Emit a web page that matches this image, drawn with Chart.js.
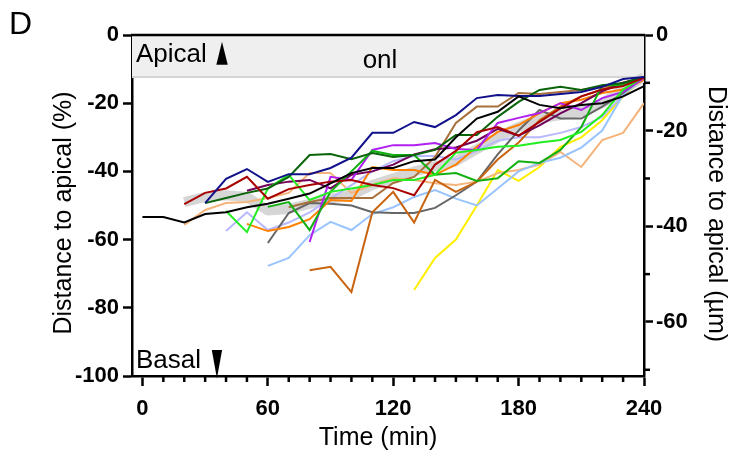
<!DOCTYPE html>
<html>
<head>
<meta charset="utf-8">
<script src="https://cdn.jsdelivr.net/npm/chart.js@4.4.1/dist/chart.umd.min.js"></script>
<style>
  html, body { margin: 0; padding: 0; background: #fff; }
</style>
</head>
<body>
<canvas id="graph" width="729" height="454"></canvas>
<script>
var times = [0, 10, 20, 30, 40, 50, 60, 70, 80, 90, 100, 110, 120, 130, 140, 150, 160, 170, 180, 190, 200, 210, 220, 230, 240];
var xTicks = [0, 60, 120, 180, 240];
var leftTicks = [0, -20, -40, -60, -80, -100];
var rightTicks = [0, -20, -40, -60];
var rightMinor = [-10, -30, -50, -70];
var apicalLimit = -12.3;    // bottom of the grey apical strip (%)
var umPerPercent = 0.713;   // 100 % of the tissue = 71.3 um

// one track per cell, values every 10 min (null = not tracked yet)
var meanBand  = [null, null, -49, -47.5, -47, -47.5, -51.5, -51, -49.5, -48, -47, -44, -42, -40, -38.5, -37, -33.5, -30, -27, -24.5, -23.5, -22.5, -20, -16, -12.3];
var black     = [-53.4, -53.4, -55, -52.5, -52, -50.5, -49.5, -48, -46.5, -43.5, -40.5, -39, -39, -37, -36.5, -30, -24.5, -22.5, -18, -20.5, -21.5, -20.5, -20, -18, -15];
var navy      = [null, null, null, -49.3, -42.2, -39.3, -43.1, -40.8, -40.8, -39, -36, -28.7, -28.7, -25.5, -27, -23.5, -18.5, -17.6, -17.9, -17.9, -17.3, -16.7, -15.2, -12.9, -12.3];
var darkRed   = [null, null, -49.6, -46.3, -45, -41.6, -48, -45.2, -44, -43, -42.5, -44, -44.9, -47, -38, -34, -28.5, -27, -29.5, -25.5, -21.5, -18, -16, -15, -12.5];
var darkGreen = [null, null, null, -49.3, -47.8, -46.3, -45, -41.6, -35.2, -34.9, -36.4, -34.6, -35.8, -35.2, -33.7, -29.3, -29.3, -24, -19.6, -16.1, -15.2, -16.1, -14.7, -14.1, -12.3];
var lime      = [null, null, null, null, -51.6, -57.8, -45, -41, -48.4, -46, -45, -44, -42.5, -42.5, -41, -34.5, -33.7, -32.8, -32.5, -31.5, -30.8, -28.4, -23.5, -16, -12.3];
var midGreen  = [null, null, null, null, null, null, -50.4, -49, -57.2, -46, -40, -34, -35.2, -35.2, -41, -40.5, -42.8, -42, -37, -37.5, -33.7, -27, -14.7, -14.7, -12.3];
var violet    = [null, null, null, null, null, null, null, null, -60.7, -41.6, -42.5, -33.7, -32.3, -32.3, -31.7, -33.4, -33.7, -25.8, -24.3, -22.9, -20, -22, -18.5, -16.7, -12.6];
var plum      = [null, null, null, null, null, -45.7, -44, -43, -42.5, -45, -41, -40, -38, -35, -33.5, -33, -31, -27.5, -29.5, -26.5, -23, -20, -16.5, -14, -12.5];
var orange    = [null, null, null, null, null, -55.4, -57.5, -56.3, -54, -48.4, -48.7, -38.7, -39.6, -39.6, -41, -38, -32.8, -28.4, -26.4, -22.9, -20, -19, -17, -16, -13.2];
var rust      = [null, null, null, null, null, null, null, null, -69, -68, -75.4, -52, -46, -55, -42.5, -46, -43, -36.5, -31.5, -25, -21, -18, -16, -14, -12.5];
var tan       = [null, null, null, null, null, null, null, -50.5, -49, -47.8, -47.8, -47.8, -43.4, -41.6, -35.8, -25.8, -21, -21, -17, -17.3, -16.7, -16.1, -15.2, -14.7, -12.6];
var grey      = [null, null, null, null, null, null, -61, -52.2, -49.3, -49.5, -50, -52, -52.2, -52.2, -50.7, -47, -43, -35, -28, -22, -24.5, -24.5, -21, -17, -12.5];
var skyBlue   = [null, null, null, null, null, null, -67.7, -65.4, -58.7, -54.8, -57.2, -52.5, -50.5, -47.5, -45.5, -48, -50, -45, -40, -37.5, -36, -33, -28, -17.5, -12.5];
var lavender  = [null, null, null, null, -57.5, -52, -57.2, -55, -52, -48, -44, -40, -37, -35.5, -35.5, -36.5, -34, -31, -30, -30, -28.7, -27, -24, -17.5, -12.5];
var peach     = [null, null, -55.7, -51.3, -49.3, -49, -47.8, -46.3, -40.5, -40.5, -46.3, -44, -42, -42.5, -43.5, -44, -43, -40.5, -39.6, -38, -34.3, -38.7, -30.8, -28.7, -20];
var yellow    = [null, null, null, null, null, null, null, null, null, null, null, null, null, -74.8, -65.4, -60, -50, -39.6, -42.8, -38.7, -32.8, -30, -25, -18, -12.3];

var tracks = [
    { vals: black, color: "#000000" },
    { vals: navy, color: "#10108a" },
    { vals: darkRed, color: "#a80000" },
    { vals: darkGreen, color: "#0a640a" },
    { vals: lime, color: "#22ee22" },
    { vals: midGreen, color: "#10b010" },
    { vals: violet, color: "#b020f0" },
    { vals: plum, color: "#700058" },
    { vals: orange, color: "#ff8000" },
    { vals: rust, color: "#c86410" },
    { vals: tan, color: "#a8703a" },
    { vals: grey, color: "#666666" },
    { vals: skyBlue, color: "#99c4ff" },
    { vals: lavender, color: "#b8b8ff" },
    { vals: peach, color: "#f5b47c" },
    { vals: yellow, color: "#ffee00" }
];

function toPoints(vals) {
    return times.map(function (t, i) { return { x: t, y: vals[i] }; });
}

var datasets = tracks.map(function (tr, i) {
    return {
        data: toPoints(tr.vals),
        borderColor: tr.color,
        borderWidth: 2,
        order: i
    };
});
datasets.push({
    data: toPoints(meanBand),
    borderColor: "#d6d6d6",
    borderWidth: 10,
    borderJoinStyle: "round",
    order: 99
});

var FONT = "'Liberation Sans', Arial, sans-serif";

var decor = {
    id: "decor",
    beforeDatasetsDraw: function (chart) {
        var c = chart.ctx, a = chart.chartArea, y = chart.scales.y;
        var yb = y.getPixelForValue(apicalLimit);
        c.save();
        c.fillStyle = "#efefef";
        c.fillRect(a.left, a.top, a.right - a.left, yb - a.top);
        c.strokeStyle = "#d4d4d4";
        c.lineWidth = 2;
        c.beginPath();
        c.moveTo(a.left, yb);
        c.lineTo(a.right, yb);
        c.stroke();
        c.restore();
    },
    afterDraw: function (chart) {
        var c = chart.ctx, a = chart.chartArea;
        var x = chart.scales.x, y2 = chart.scales.y2;
        c.save();
        // top frame
        c.strokeStyle = "#000";
        c.lineWidth = 2.5;
        c.beginPath();
        c.moveTo(a.left - 1, a.top);
        c.lineTo(a.right + 1, a.top);
        c.stroke();
        // minor ticks
        times.forEach(function (t) {
            if (xTicks.indexOf(t) >= 0) return;
            var px = x.getPixelForValue(t);
            c.beginPath();
            c.moveTo(px, a.bottom);
            c.lineTo(px, a.bottom + 6);
            c.stroke();
        });
        rightMinor.forEach(function (v) {
            var py = y2.getPixelForValue(v);
            c.beginPath();
            c.moveTo(a.right, py);
            c.lineTo(a.right + 6, py);
            c.stroke();
        });

        c.fillStyle = "#000";
        c.textBaseline = "alphabetic";
        // panel letter
        c.font = "32px " + FONT;
        c.textAlign = "left";
        c.fillText("D", 9, 34);
        // strip labels
        c.font = "26px " + FONT;
        c.fillText("Apical", 136, 62);
        c.fillText("Basal", 136, 368);
        c.textAlign = "center";
        c.fillText("onl", 380, 68);
        // arrows
        c.font = "30px 'DejaVu Sans'";
        c.save();
        c.translate(222, 61);
        c.scale(0.5, 1.0);
        c.fillText("\u25B2", 0, 0);
        c.restore();
        c.save();
        c.translate(217, 374);
        c.scale(0.45, 1.25);
        c.fillText("\u25BC", 0, 0);
        c.restore();
        // axis titles
        c.font = "25px " + FONT;
        c.textBaseline = "middle";
        c.fillText("Time (min)", 378, 438);
        c.save();
        c.translate(64, 213);
        c.rotate(-Math.PI / 2);
        c.fillText("Distance to apical (%)", 0, 0);
        c.restore();
        c.save();
        c.translate(716, 214);
        c.rotate(Math.PI / 2);
        c.fillText("Distance to apical (\u00B5m)", 0, 0);
        c.restore();
        c.restore();
    }
};

function axisStyle(tickLen) {
    return {
        grid: { drawOnChartArea: false, drawTicks: true, tickLength: tickLen, tickWidth: 2.5, tickColor: "#000" },
        border: { display: true, color: "#000", width: 2.5 },
        ticks: { color: "#000", font: { family: FONT, size: 22, weight: "bold" }, maxRotation: 0, autoSkip: false }
    };
}

var xAxis = axisStyle(10);
xAxis.type = "linear";
xAxis.min = -5;
xAxis.max = 240;
xAxis.ticks.padding = 10;
xAxis.afterFit = function (s) { s.height = 78; };
xAxis.afterBuildTicks = function (s) { s.ticks = xTicks.map(function (v) { return { value: v }; }); };

var yAxis = axisStyle(9);
yAxis.position = "left";
yAxis.min = -100;
yAxis.max = 0;
yAxis.ticks.padding = 4;
yAxis.afterFit = function (s) { s.width = 132; };
yAxis.afterBuildTicks = function (s) { s.ticks = leftTicks.map(function (v) { return { value: v }; }); };

var y2Axis = axisStyle(9);
y2Axis.type = "linear";
y2Axis.position = "right";
y2Axis.min = -100 * umPerPercent;
y2Axis.max = 0;
y2Axis.ticks.padding = 3;
y2Axis.afterFit = function (s) { s.width = 85; };
y2Axis.afterBuildTicks = function (s) { s.ticks = rightTicks.map(function (v) { return { value: v }; }); };

var chart = new Chart(document.getElementById("graph").getContext("2d"), {
    type: "line",
    data: { datasets: datasets },
    options: {
        responsive: false,
        animation: false,
        layout: { padding: { top: 35, left: 0, right: 0, bottom: 0 } },
        elements: { point: { radius: 0 }, line: { tension: 0, borderCapStyle: "butt" } },
        plugins: { legend: { display: false }, tooltip: { enabled: false } },
        scales: { x: xAxis, y: yAxis, y2: y2Axis }
    },
    plugins: [decor]
});
</script>
</body>
</html>
